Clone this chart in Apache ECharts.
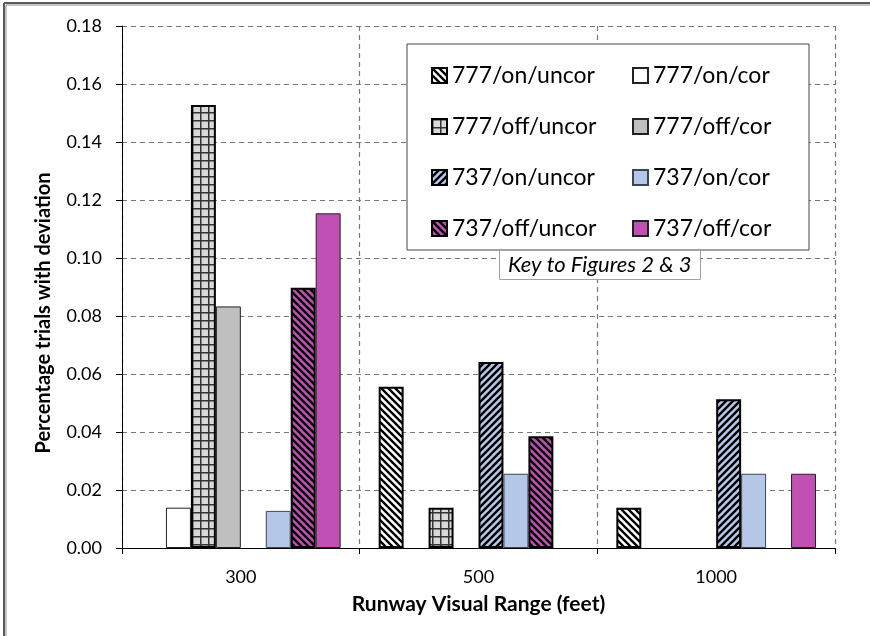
<!DOCTYPE html>
<html><head><meta charset="utf-8">
<script src="https://cdn.jsdelivr.net/npm/echarts@6/dist/echarts.min.js"></script>
<style>html,body{margin:0;padding:0;background:#fff}#c{width:870px;height:636px}</style>
</head><body><div id="c"></div>
<script>
const categories = ['300', '500', '1000'];
const seriesNames = ['777/on/uncor', '777/on/cor', '777/off/uncor', '777/off/cor',
                     '737/on/uncor', '737/on/cor', '737/off/uncor', '737/off/cor'];
const v777OnUncor  = [null, 0.0556, 0.0139];
const v777OnCor    = [0.0139, null, null];
const v777OffUncor = [0.1528, 0.0139, null];
const v777OffCor   = [0.0833, null, null];
const v737OnUncor  = [null, 0.0641, 0.0513];
const v737OnCor    = [0.0128, 0.0256, 0.0256];
const v737OffUncor = [0.0897, 0.0385, null];
const v737OffCor   = [0.1154, null, 0.0256];
const yTicks = [0, 0.02, 0.04, 0.06, 0.08, 0.10, 0.12, 0.14, 0.16, 0.18];
const values = [v777OnUncor, v777OnCor, v777OffUncor, v777OffCor, v737OnUncor, v737OnCor, v737OffUncor, v737OffCor];

const FONT = 'Lato';

function hatch(bg, dir) {
  const s = 7;
  const c = document.createElement('canvas');
  c.width = s; c.height = s;
  const g = c.getContext('2d');
  g.fillStyle = bg; g.fillRect(0, 0, s, s);
  g.strokeStyle = '#000'; g.lineWidth = 2.4;
  g.beginPath();
  for (let o = -s; o <= s; o += s) {
    if (dir === 'down') { g.moveTo(o - 1, -1); g.lineTo(o + s + 1, s + 1); }
    else { g.moveTo(o - 1, s + 1); g.lineTo(o + s + 1, -1); }
  }
  g.stroke();
  return { image: c, repeat: 'repeat' };
}
function grid(bg) {
  const s = 8;
  const c = document.createElement('canvas');
  c.width = s; c.height = s;
  const g = c.getContext('2d');
  g.fillStyle = bg; g.fillRect(0, 0, s, s);
  g.fillStyle = '#333';
  g.fillRect(0, 0, s, 1.5);
  g.fillRect(0, 0, 1.5, s);
  return { image: c, repeat: 'repeat' };
}

const styles = [
  { color: hatch('#ffffff', 'down'), borderColor: '#000', borderWidth: 2 },
  { color: '#ffffff', borderColor: '#222', borderWidth: 1 },
  { color: grid('#d9d9d9'), borderColor: '#000', borderWidth: 2 },
  { color: '#bfbfbf', borderColor: '#222', borderWidth: 1 },
  { color: hatch('#b4c7e7', 'up'), borderColor: '#000', borderWidth: 2 },
  { color: '#b4c7e7', borderColor: '#3a4555', borderWidth: 1 },
  { color: hatch('#c050b4', 'down'), borderColor: '#000', borderWidth: 2 },
  { color: '#c050b4', borderColor: '#222', borderWidth: 1 }
];

const series = seriesNames.map((n, i) => ({
  name: n, type: 'bar', data: values[i],
  barGap: '0%', barCategoryGap: '16%',
  itemStyle: styles[i]
}));

const legendCommon = {
  orient: 'vertical', itemWidth: 15, itemHeight: 15, itemGap: 28, z: 6,
  textStyle: { fontFamily: FONT, fontSize: 23, color: '#000' },
  icon: 'rect', selectedMode: false
};

const chart = echarts.init(document.getElementById('c'), null, { renderer: 'canvas' });
chart.setOption({
  animation: false,
  backgroundColor: '#fff',
  grid: { left: 122, right: 35, top: 26, bottom: 88 },
  title: {
    text: 'Key to Figures 2 & 3', left: 499, top: 250, z: 7,
    borderColor: '#a0a0a0', borderWidth: 1, backgroundColor: '#fff',
    padding: [4, 9, 4, 9],
    textStyle: { fontFamily: FONT, fontSize: 22, fontStyle: 'italic', fontWeight: 'normal', color: '#000' }
  },
  legend: [
    Object.assign({ left: 426, top: 59, data: ['777/on/uncor', '777/off/uncor', '737/on/uncor', '737/off/uncor'] }, legendCommon),
    Object.assign({ left: 627, top: 59, data: ['777/on/cor', '777/off/cor', '737/on/cor', '737/off/cor'] }, legendCommon)
  ],
  graphic: [
    { type: 'rect', z: 3, shape: { x: 407, y: 44, width: 402, height: 206 },
      style: { fill: '#fff', stroke: '#444', lineWidth: 1 } },
    { type: 'line', shape: { x1: 4, y1: 3, x2: 870, y2: 3 }, style: { stroke: '#5a5a5a', lineWidth: 2 } },
    { type: 'line', shape: { x1: 4, y1: 3, x2: 4, y2: 636 }, style: { stroke: '#5a5a5a', lineWidth: 2 } },
    { type: 'line', shape: { x1: 6, y1: 5, x2: 870, y2: 5 }, style: { stroke: '#b0b0b0', lineWidth: 1.5 } },
    { type: 'line', shape: { x1: 6, y1: 5, x2: 6, y2: 636 }, style: { stroke: '#b0b0b0', lineWidth: 1.5 } }
  ],
  xAxis: {
    type: 'category', data: categories,
    name: 'Runway Visual Range (feet)', nameLocation: 'middle', nameGap: 46,
    nameTextStyle: { fontFamily: FONT, fontSize: 21, fontWeight: 'bold', color: '#000' },
    axisLine: { lineStyle: { color: '#000', width: 1 } },
    axisTick: { show: true, length: 6, lineStyle: { color: '#000' } },
    axisLabel: { fontFamily: FONT, fontSize: 18, color: '#000', margin: 20 },
    splitLine: { show: true, lineStyle: { color: '#777', type: [5, 4], width: 1.2 } }
  },
  yAxis: {
    type: 'value', min: 0, max: 0.18, interval: 0.02,
    name: 'Percentage trials with deviation', nameLocation: 'middle', nameGap: 68,
    nameTextStyle: { fontFamily: FONT, fontSize: 20, fontWeight: 'bold', color: '#000', padding: [0, 52, 0, 0] },
    axisLine: { show: true, lineStyle: { color: '#000', width: 1 } },
    axisTick: { show: true, length: 6, lineStyle: { color: '#000' } },
    axisLabel: { fontFamily: FONT, fontSize: 18, color: '#000', margin: 20,
      formatter: v => { const t = yTicks.find(x => Math.abs(x - v) < 1e-9); return (t !== undefined ? t : v).toFixed(2); } },
    splitLine: { show: true, lineStyle: { color: '#777', type: [5, 4], width: 1.2 } }
  },
  series: series
});
</script></body></html>
